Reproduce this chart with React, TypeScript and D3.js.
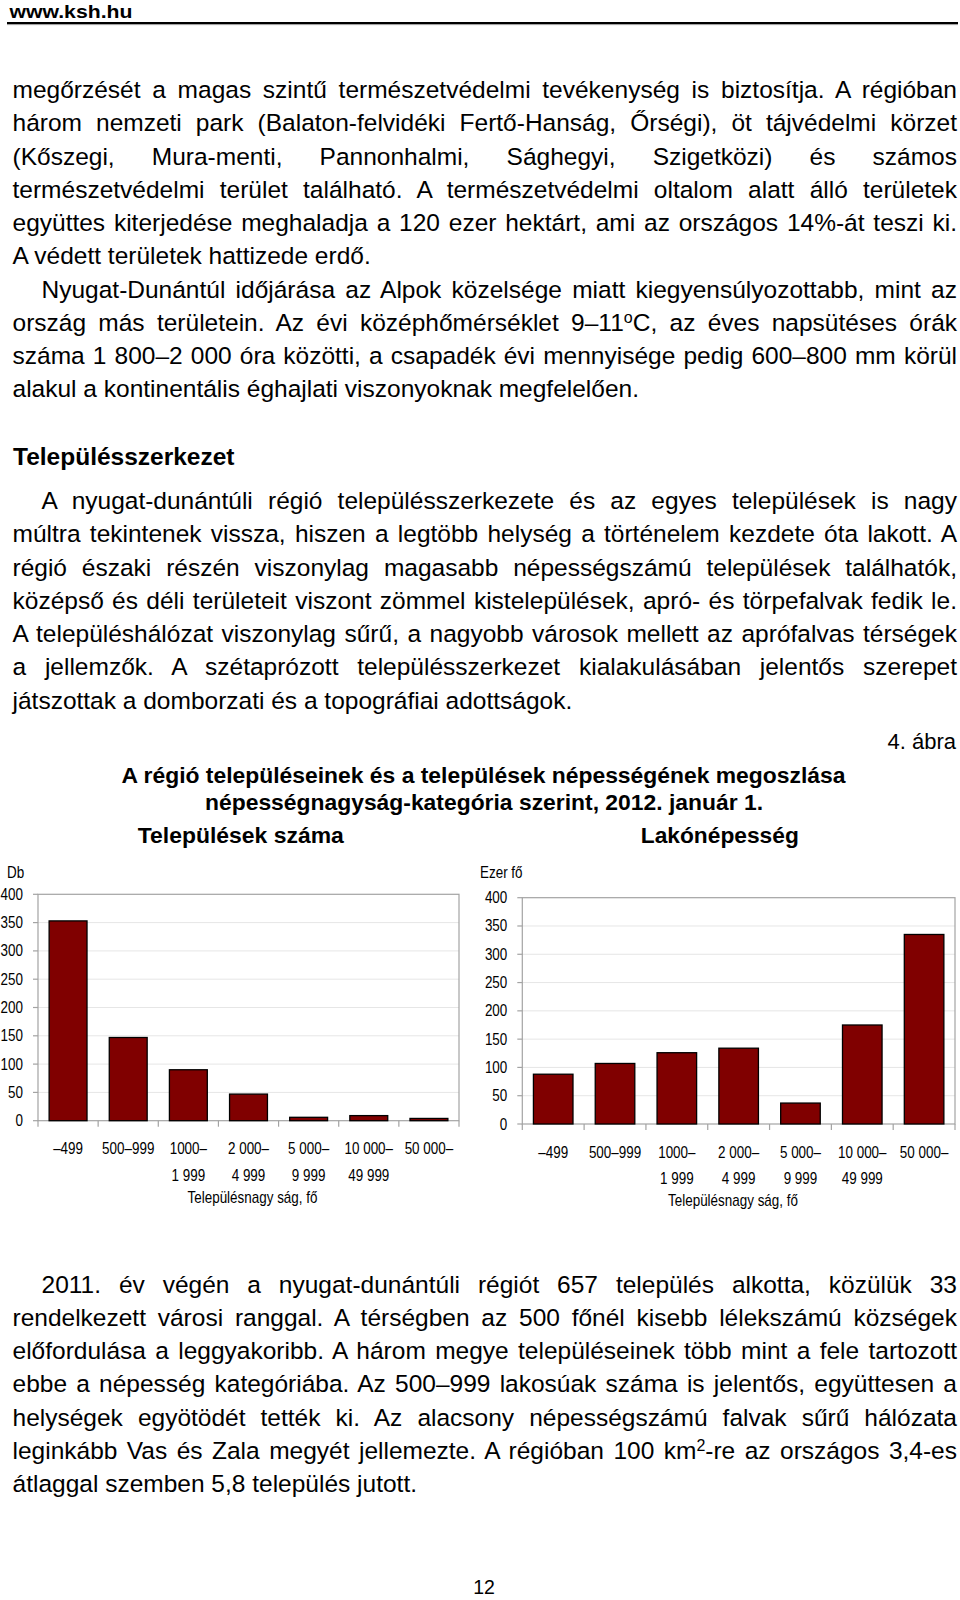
import React, { useEffect, useRef } from 'react';
import * as d3 from 'd3';

// ---- data ----
const sizeCategories = ['–499', '500–999', '1000–', '2 000–', '5 000–', '10 000–', '50 000–'];
const sizeCategoriesLine2 = ['', '', '1 999', '4 999', '9 999', '49 999', ''];
const settlementCounts = [353, 147, 90, 47, 6, 9, 4];
const populationThousands = [88, 107, 126, 134, 37, 175, 335];
const yTicks = [0, 50, 100, 150, 200, 250, 300, 350, 400];

// ---- page text (^x = superscript character) ----
const para1 = [
  'megőrzését a magas szintű természetvédelmi tevékenység is biztosítja. A régióban',
  'három nemzeti park (Balaton-felvidéki Fertő-Hanság, Őrségi), öt tájvédelmi körzet',
  '(Kőszegi, Mura-menti, Pannonhalmi, Sághegyi, Szigetközi) és számos',
  'természetvédelmi terület található. A természetvédelmi oltalom alatt álló területek',
  'együttes kiterjedése meghaladja a 120 ezer hektárt, ami az országos 14%-át teszi ki.',
  'A védett területek hattizede erdő.',
];
const para2 = [
  'Nyugat-Dunántúl időjárása az Alpok közelsége miatt kiegyensúlyozottabb, mint az',
  'ország más területein. Az évi középhőmérséklet 9–11^oC, az éves napsütéses órák',
  'száma 1 800–2 000 óra közötti, a csapadék évi mennyisége pedig 600–800 mm körül',
  'alakul a kontinentális éghajlati viszonyoknak megfelelően.',
];
const para3 = [
  'A nyugat-dunántúli régió településszerkezete és az egyes települések is nagy',
  'múltra tekintenek vissza, hiszen a legtöbb helység a történelem kezdete óta lakott. A',
  'régió északi részén viszonylag magasabb népességszámú települések találhatók,',
  'középső és déli területeit viszont zömmel kistelepülések, apró- és törpefalvak fedik le.',
  'A településhálózat viszonylag sűrű, a nagyobb városok mellett az aprófalvas térségek',
  'a jellemzők. A szétaprózott településszerkezet kialakulásában jelentős szerepet',
  'játszottak a domborzati és a topográfiai adottságok.',
];
const para4 = [
  '2011. év végén a nyugat-dunántúli régiót 657 település alkotta, közülük 33',
  'rendelkezett városi ranggal. A térségben az 500 főnél kisebb lélekszámú községek',
  'előfordulása a leggyakoribb. A három megye településeinek több mint a fele tartozott',
  'ebbe a népesség kategóriába. Az 500–999 lakosúak száma is jelentős, együttesen a',
  'helységek egyötödét tették ki. Az alacsony népességszámú falvak sűrű hálózata',
  'leginkább Vas és Zala megyét jellemezte. A régióban 100 km^2-re az országos 3,4-es',
  'átlaggal szemben 5,8 település jutott.',
];

const FONT = '"Liberation Sans", Arial, Helvetica, sans-serif';
const NARROW = 0.84;
const BODY = 24.5;
const LH = 33.26;
const LEFT = 12.5;
const RIGHT = 957;
const INDENT = 41.5;

function renderParts(line: string) {
  const bits = line.split(/\^(.)/);
  return bits.map((b, i) =>
    i % 2 === 1 ? (
      <tspan key={i} baselineShift="super" fontSize={16}>{b}</tspan>
    ) : (
      <React.Fragment key={i}>{b}</React.Fragment>
    )
  );
}

function Paragraph({ lines, top, indent }: { lines: string[]; top: number; indent: boolean }) {
  return (
    <g>
      {lines.map((ln, i) => {
        const x = i === 0 && indent ? INDENT : LEFT;
        const justify = i < lines.length - 1;
        return (
          <text
            key={i}
            className={justify ? 'jline' : undefined}
            data-width={RIGHT - x}
            x={x}
            y={top + i * LH}
            fontSize={BODY}
          >
            {renderParts(ln)}
          </text>
        );
      })}
    </g>
  );
}

function Narrow({ x, y, anchor = 'middle', children }: any) {
  return (
    <text transform={`translate(${x},${y}) scale(${NARROW},1)`} textAnchor={anchor} fontSize={16}>
      {children}
    </text>
  );
}

function BarPanel(props: {
  values: number[];
  x0: number;
  x1: number;
  yTop: number;
  yZero: number;
  pad: number;
  unit: string;
  unitX: number;
  titleX: number;
}) {
  const { values, x0, x1, yTop, yZero, pad, unit, unitX, titleX } = props;
  const x = d3.scaleBand<string>().domain(sizeCategories).range([x0, x1]).paddingInner(pad).paddingOuter(pad / 2);
  const y = d3.scaleLinear().domain([0, 400]).range([yZero, yTop]);
  const step = x.step();
  const frame = '#a3a3a3';
  return (
    <g>
      {yTicks.slice(1, -1).map((t) => (
        <line key={t} x1={x0} x2={x1} y1={y(t)} y2={y(t)} stroke="#e6e6e6" strokeWidth={1} />
      ))}
      <rect x={x0} y={yTop} width={x1 - x0} height={yZero - yTop} fill="none" stroke={frame} strokeWidth={1.2} />
      {yTicks.map((t) => (
        <line key={t} x1={x0 - 5} x2={x0} y1={y(t)} y2={y(t)} stroke={frame} strokeWidth={1.2} />
      ))}
      {d3.range(sizeCategories.length + 1).map((i) => (
        <line key={i} x1={x0 + i * step} x2={x0 + i * step} y1={yZero} y2={yZero + 6} stroke={frame} strokeWidth={1.2} />
      ))}
      {values.map((v, i) => (
        <rect
          key={i}
          x={x(sizeCategories[i])}
          y={y(v)}
          width={x.bandwidth()}
          height={yZero - y(v)}
          fill="#800000"
          stroke="#000"
          strokeWidth={1.3}
        />
      ))}
      {yTicks.map((t) => (
        <Narrow key={t} x={x0 - 15} y={y(t) + 5.5} anchor="end">{t}</Narrow>
      ))}
      {sizeCategories.map((c, i) => {
        const cx = (x(c) as number) + x.bandwidth() / 2;
        return (
          <g key={c}>
            <Narrow x={cx} y={yZero + 33.5}>{c}</Narrow>
            {sizeCategoriesLine2[i] && <Narrow x={cx} y={yZero + 60}>{sizeCategoriesLine2[i]}</Narrow>}
          </g>
        );
      })}
      <Narrow x={titleX} y={yZero + 82}>Településnagy ság, fő</Narrow>
      <Narrow x={unitX} y={877.5} anchor="start">{unit}</Narrow>
    </g>
  );
}

export default function App() {
  const svgRef = useRef<SVGSVGElement>(null);

  useEffect(() => {
    document.body.style.margin = '0';
    const justify = () => {
      d3.select(svgRef.current)
        .selectAll<SVGTextElement, unknown>('text.jline')
        .each(function () {
          this.setAttribute('word-spacing', '0');
          const w = this.getComputedTextLength();
          const target = +(this.getAttribute('data-width') || 0);
          const spaces = ((this.textContent || '').match(/ /g) || []).length;
          if (spaces) this.setAttribute('word-spacing', ((target - w) / spaces).toFixed(3));
        });
    };
    justify();
    (document as any).fonts?.ready?.then(justify);
  }, []);

  return (
    <div style={{ position: 'absolute', left: 0, top: 0 }}>
      <svg ref={svgRef} width={960} height={1600} fontFamily={FONT} style={{ display: 'block', background: '#fff' }}>
        <rect width={960} height={1600} fill="#fff" />
        {/* header */}
        <text x={9.5} y={17.5} fontSize={18} fontWeight="bold" textLength={123} lengthAdjust="spacingAndGlyphs">
          www.ksh.hu
        </text>
        <line x1={7} x2={958} y1={23} y2={23} stroke="#000" strokeWidth={2} />
        <line x1={7} x2={958} y1={24.6} y2={24.6} stroke="#999" strokeWidth={1} />

        <Paragraph lines={para1} top={98} indent={false} />
        <Paragraph lines={para2} top={98 + 6 * LH} indent={true} />

        <text x={13} y={465} fontSize={24.5} fontWeight="bold">Településszerkezet</text>
        <Paragraph lines={para3} top={509} indent={true} />

        {/* figure */}
        <text x={956} y={749} fontSize={22} textAnchor="end">4. ábra</text>
        <text x={483.5} y={783} fontSize={22.5} fontWeight="bold" textAnchor="middle" textLength={724} lengthAdjust="spacingAndGlyphs">
          A régió településeinek és a települések népességének megoszlása
        </text>
        <text x={484} y={810} fontSize={22.5} fontWeight="bold" textAnchor="middle" textLength={558} lengthAdjust="spacingAndGlyphs">
          népességnagyság-kategória szerint, 2012. január 1.
        </text>
        <text x={240.8} y={842.5} fontSize={22.5} fontWeight="bold" textAnchor="middle" textLength={206} lengthAdjust="spacingAndGlyphs">
          Települések száma
        </text>
        <text x={719.8} y={842.5} fontSize={22.5} fontWeight="bold" textAnchor="middle" textLength={158} lengthAdjust="spacingAndGlyphs">
          Lakónépesség
        </text>

        <BarPanel values={settlementCounts} x0={38} x1={459} yTop={894.3} yZero={1120.7} pad={0.37} unit="Db" unitX={7} titleX={252.5} />
        <BarPanel values={populationThousands} x0={522.3} x1={955} yTop={897.7} yZero={1124} pad={0.36} unit="Ezer fő" unitX={480} titleX={733} />

        <Paragraph lines={para4} top={1292.7} indent={true} />

        <text x={484} y={1594} fontSize={19.5} textAnchor="middle">12</text>
      </svg>
    </div>
  );
}
